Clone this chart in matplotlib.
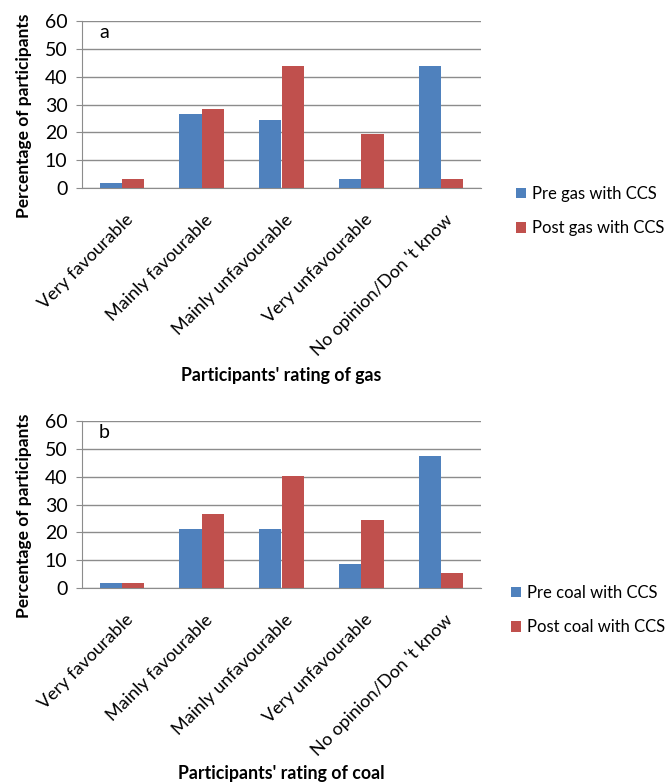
import matplotlib
matplotlib.use("Agg")
import matplotlib.pyplot as plt
import matplotlib.transforms as mtransforms
import numpy as np

plt.rcParams['font.family'] = ['Lato', 'DejaVu Sans']

categories = ["Very favourable", "Mainly favourable", "Mainly unfavourable",
              "Very unfavourable", "No opinion/Don 't know"]
pre_gas = [1.8, 26.5, 24.4, 3.4, 44.0]
post_gas = [3.4, 28.3, 44.0, 19.4, 3.4]
pre_coal = [1.9, 21.1, 21.1, 8.7, 47.4]
post_coal = [1.9, 26.5, 40.3, 24.4, 5.3]
yticks = [0, 10, 20, 30, 40, 50, 60]

BLUE = "#4F81BD"
RED = "#C0504D"
GRID = "#8C8C8C"

W, H = 669, 784
fig = plt.figure(figsize=(W / 100, H / 100), dpi=100)

def panel(rect, pre, post, letter, labels, xlabel, xlabel_y, legend_x, legend_y):
    ax = fig.add_axes(rect)
    x = np.arange(len(categories))
    bw = 0.28
    ax.bar(x - bw / 2, pre, bw, color=BLUE, label=labels[0], zorder=3)
    ax.bar(x + bw / 2, post, bw, color=RED, label=labels[1], zorder=3)
    ax.set_xlim(-0.5, len(categories) - 0.5)
    ax.set_ylim(0, 60)
    ax.set_yticks(yticks)
    ax.set_yticklabels([str(t) for t in yticks], fontsize=14)
    ax.yaxis.grid(True, color=GRID, linewidth=1.0, zorder=0)
    ax.set_axisbelow(True)
    for s in ["top", "right"]:
        ax.spines[s].set_visible(False)
    ax.spines["left"].set_color(GRID)
    ax.spines["bottom"].set_color(GRID)
    ax.tick_params(axis="y", length=4.5, color=GRID, pad=6)
    ax.tick_params(axis="x", length=0, pad=17)
    ax.set_xticks(x)
    ax.set_xticklabels(categories, rotation=45, ha="right", va="top",
                       rotation_mode="anchor", fontsize=13)
    off = mtransforms.ScaledTranslation(3 / 100, 0, fig.dpi_scale_trans)
    for lab in ax.get_xticklabels():
        lab.set_transform(lab.get_transform() + off)
    ax.set_ylabel("Percentage of participants", fontsize=12.5,
                  fontweight="bold")
    ax.yaxis.set_label_coords(-0.125, 0.43)
    ax.text(0.055, 0.93, letter, transform=ax.transAxes, fontsize=14,
            ha="center", va="center")
    fig.text(281 / W, 1 - xlabel_y / H, xlabel, fontsize=12.8,
             fontweight="bold", ha="center", va="center")
    ax.legend(loc="center left", bbox_to_anchor=(legend_x / W, 1 - legend_y / H),
              bbox_transform=fig.transFigure, frameon=False, fontsize=12,
              handlelength=0.6, handleheight=0.6, handletextpad=0.4,
              labelspacing=1.1, borderaxespad=0)
    return ax

panel([82 / W, 1 - 188 / H, 399 / W, 167 / H], pre_gas, post_gas, "a",
      ["Pre gas with CCS", "Post gas with CCS"],
      "Participants' rating of gas", 375, 509, 211)
panel([82 / W, 1 - 588 / H, 399 / W, 167 / H], pre_coal, post_coal, "b",
      ["Pre coal with CCS", "Post coal with CCS"],
      "Participants' rating of coal", 773, 504, 610)

fig.savefig("out.png", dpi=100)
